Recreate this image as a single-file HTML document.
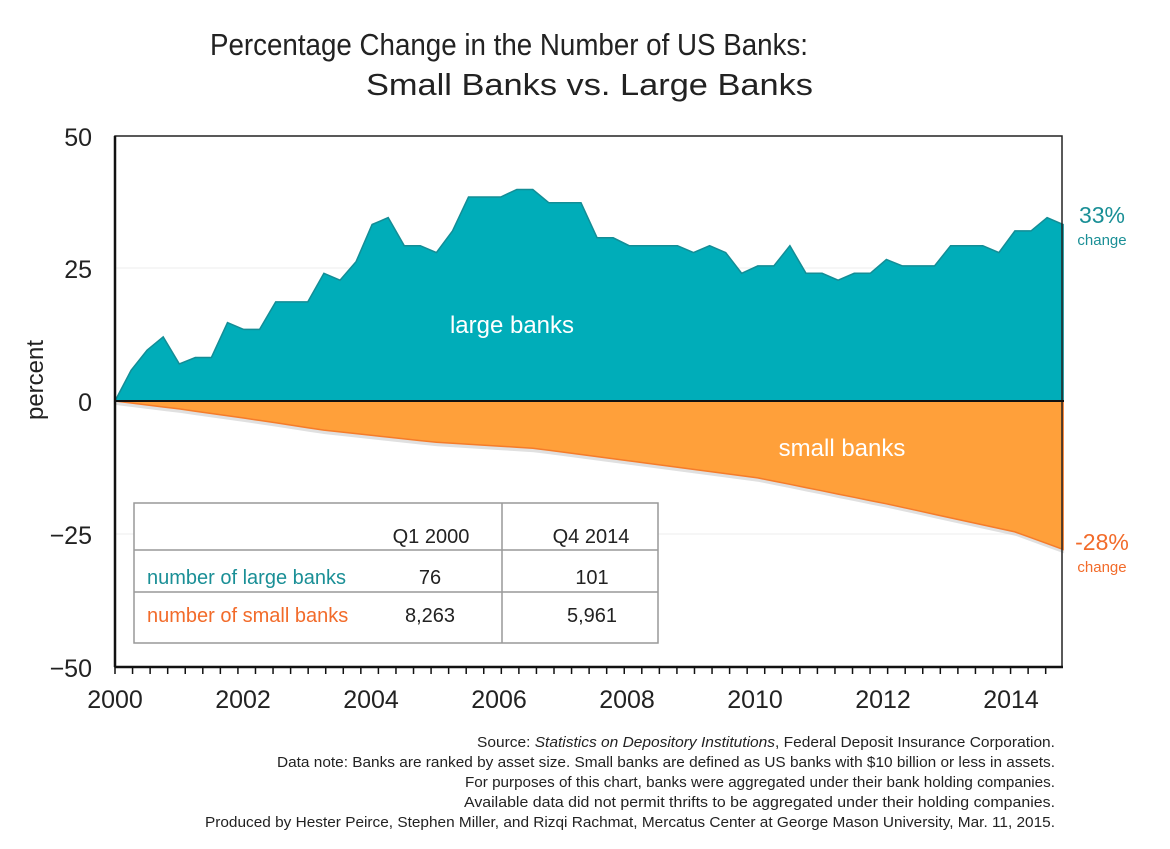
<!DOCTYPE html>
<html><head><meta charset="utf-8"><style>
body{margin:0;background:#fff;}
svg{display:block;font-family:"Liberation Sans",sans-serif;}
</style></head><body>
<svg id="c" width="1170" height="849" viewBox="0 0 1170 849" xmlns="http://www.w3.org/2000/svg">
<text x="210" y="55" font-size="31" fill="#222" textLength="598" lengthAdjust="spacingAndGlyphs">Percentage Change in the Number of US Banks:</text>
<text x="366" y="95" font-size="31" fill="#222" textLength="447" lengthAdjust="spacingAndGlyphs">Small Banks vs. Large Banks</text>
<line x1="115" y1="268" x2="1062" y2="268" stroke="#eee" stroke-width="1"/>
<line x1="115" y1="534" x2="1062" y2="534" stroke="#eee" stroke-width="1"/>
<path id="shadow" fill="#ccc" opacity="0.6"/>
<path id="small" fill="#ffa03a" stroke="#f57c2a" stroke-width="1.5"/>
<path id="large" fill="#00adb9" stroke="#138d96" stroke-width="1.5"/>
<rect x="115" y="136" width="947" height="531" fill="none" stroke="#222" stroke-width="1.5"/>
<line x1="115" y1="136" x2="115" y2="667" stroke="#111" stroke-width="2.5"/>
<line x1="115" y1="667" x2="1063" y2="667" stroke="#111" stroke-width="2.5"/>
<line x1="115" y1="401" x2="1064" y2="401" stroke="#111" stroke-width="2"/>
<g id="ticks" stroke="#111" stroke-width="1.5"></g>
<g font-size="25" fill="#222" text-anchor="end">
<text x="92" y="146">50</text><text x="92" y="278">25</text><text x="92" y="411">0</text>
<text x="92" y="544">−25</text><text x="92" y="677">−50</text></g>
<text transform="translate(43,380) rotate(-90)" font-size="24" fill="#222" text-anchor="middle">percent</text>
<g font-size="25" fill="#222" text-anchor="middle">
<text x="115" y="708">2000</text><text x="243" y="708">2002</text><text x="371" y="708">2004</text><text x="499" y="708">2006</text>
<text x="627" y="708">2008</text><text x="755" y="708">2010</text><text x="883" y="708">2012</text><text x="1011" y="708">2014</text></g>
<text x="512" y="333" font-size="24" fill="#fff" text-anchor="middle">large banks</text>
<text x="842" y="456" font-size="24" fill="#fff" text-anchor="middle">small banks</text>
<text x="1102" y="223" font-size="23" fill="#1a8f96" text-anchor="middle">33%</text>
<text x="1102" y="245" font-size="15" fill="#1a8f96" text-anchor="middle">change</text>
<text x="1102" y="550" font-size="23" fill="#f26b2a" text-anchor="middle">-28%</text>
<text x="1102" y="572" font-size="15" fill="#f26b2a" text-anchor="middle">change</text>
<rect x="134" y="503" width="524" height="140" fill="#fff" stroke="#999" stroke-width="1.5"/>
<line x1="134" y1="550" x2="658" y2="550" stroke="#999" stroke-width="1.5"/>
<line x1="134" y1="592" x2="658" y2="592" stroke="#999" stroke-width="1.5"/>
<line x1="502" y1="503" x2="502" y2="643" stroke="#999" stroke-width="1.5"/>
<g font-size="20" fill="#222" text-anchor="middle">
<text x="431" y="543">Q1 2000</text><text x="591" y="543">Q4 2014</text>
<text x="430" y="584">76</text><text x="592" y="584">101</text>
<text x="430" y="622">8,263</text><text x="592" y="622">5,961</text></g>
<text x="147" y="584" font-size="20" fill="#1a8f96">number of large banks</text>
<text x="147" y="622" font-size="20" fill="#f26b2a">number of small banks</text>
<g font-size="15" fill="#222">
<text x="477" y="747" textLength="578" lengthAdjust="spacingAndGlyphs">Source: <tspan font-style="italic">Statistics on Depository Institutions</tspan>, Federal Deposit Insurance Corporation.</text>
<text x="277" y="767" textLength="778" lengthAdjust="spacingAndGlyphs">Data note: Banks are ranked by asset size. Small banks are defined as US banks with $10 billion or less in assets.</text>
<text x="465" y="787" textLength="590" lengthAdjust="spacingAndGlyphs">For purposes of this chart, banks were aggregated under their bank holding companies.</text>
<text x="464" y="807" textLength="591" lengthAdjust="spacingAndGlyphs">Available data did not permit thrifts to be aggregated under their holding companies.</text>
<text x="205" y="827" textLength="850" lengthAdjust="spacingAndGlyphs">Produced by Hester Peirce, Stephen Miller, and Rizqi Rachmat, Mercatus Center at George Mason University, Mar. 11, 2015.</text>
</g>
</svg>
<script>
var L=[0,5.8,9.6,12.1,7.0,8.2,8.2,14.8,13.5,13.5,18.7,18.7,18.7,24.1,22.8,26.3,33.3,34.6,29.3,29.3,28.0,32.1,38.5,38.5,38.5,39.9,39.9,37.4,37.4,37.4,30.8,30.8,29.3,29.3,29.3,29.3,28.0,29.3,28.0,24.1,25.5,25.5,29.3,24.1,24.1,22.8,24.1,24.1,26.7,25.5,25.5,25.5,29.3,29.3,29.3,28.0,32.1,32.1,34.6,33.3];
var K=[[0,0],[4,-1.5],[8,-3.2],[13,-5.5],[20,-7.8],[26,-8.9],[32,-11.3],[40,-14.5],[48,-19.4],[56,-24.7],[59,-28]];
function sv(i){for(var k=0;k<K.length-1;k++){if(i>=K[k][0]&&i<=K[k+1][0]){var t=(i-K[k][0])/(K[k+1][0]-K[k][0]);return K[k][1]+t*(K[k+1][1]-K[k][1]);}}return -28;}
function X(i){return 115+i*16.07;}function Y(v){return 401-v*5.3;}
var d="M115,401",ds="M115,401",dh="M115,401";
for(var i=0;i<60;i++){d+=" L"+X(i).toFixed(1)+","+Y(L[i]).toFixed(1);ds+=" L"+X(i).toFixed(1)+","+Y(sv(i)).toFixed(1);dh+=" L"+(X(i)+1).toFixed(1)+","+(Y(sv(i))+4).toFixed(1);}
d+=" L"+X(59)+",401 Z";ds+=" L"+X(59)+",401 Z";dh+=" L"+X(59)+",401 Z";
document.getElementById("large").setAttribute("d",d);
document.getElementById("small").setAttribute("d",ds);
document.getElementById("shadow").setAttribute("d",dh);
var g=document.getElementById("ticks"),s="";
for(var x=115;x<=1063;x+=17.56){s+='<line x1="'+x+'" y1="667" x2="'+x+'" y2="674"/>';}
g.innerHTML=s;
</script>
</body></html>
